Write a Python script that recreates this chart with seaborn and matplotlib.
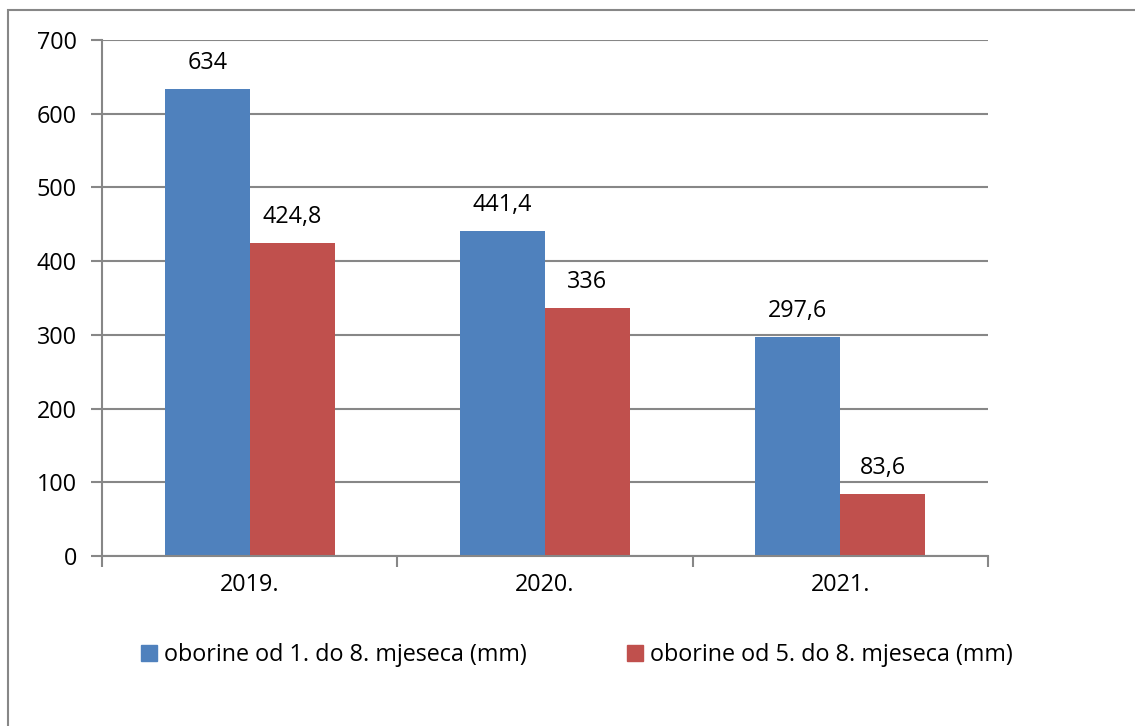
import matplotlib
matplotlib.use("Agg")
import matplotlib.pyplot as plt
import seaborn as sns
import pandas as pd
from matplotlib.patches import Rectangle
from matplotlib.lines import Line2D

years = ["2019.", "2020.", "2021."]
series_names = ["oborine od 1. do 8. mjeseca (mm)", "oborine od 5. do 8. mjeseca (mm)"]
vals_1_8 = [634, 441.4, 297.6]
vals_5_8 = [424.8, 336, 83.6]
colors = ["#4F81BD", "#C0504D"]
yticks = [0, 100, 200, 300, 400, 500, 600, 700]

df = pd.DataFrame({
    "year": years * 2,
    "value": vals_1_8 + vals_5_8,
    "series": [series_names[0]] * 3 + [series_names[1]] * 3,
})

sns.set_style("white")
plt.rcParams["font.family"] = ["Open Sans", "DejaVu Sans"]
plt.rcParams["text.color"] = "black"
plt.rcParams["xtick.labelcolor"] = "black"
plt.rcParams["ytick.labelcolor"] = "black"
FS = 16.8
GRID = "#878787"

fig = plt.figure(figsize=(11.35, 7.26), dpi=100)
ax = fig.add_axes([102 / 1135, 1 - 556 / 726, (988 - 102) / 1135, (556 - 40) / 726])

sns.barplot(data=df, x="year", y="value", hue="series", palette=colors,
            saturation=1, width=0.575, ax=ax, legend=False, linewidth=0)

ax.set_xlim(-0.5, 2.5)
ax.set_ylim(0, 700)
ax.set_yticks(yticks)
ax.set_yticklabels([str(t) for t in yticks], fontsize=FS, color="black")
ax.yaxis.grid(True, color=GRID, linewidth=1.5)
ax.set_axisbelow(True)
ax.set_xlabel("")
ax.set_ylabel("")

for s in ["top", "right"]:
    ax.spines[s].set_visible(False)
for s in ["left", "bottom"]:
    ax.spines[s].set_color(GRID)
    ax.spines[s].set_linewidth(1.5)

ax.tick_params(axis="y", which="major", length=8, width=1.5, color=GRID, pad=10, left=True)
ax.tick_params(axis="x", which="major", length=0, pad=12, labelsize=FS, labelcolor="black")
ax.set_xticks([-0.5, 0.5, 1.5, 2.5], minor=True)
ax.tick_params(axis="x", which="minor", length=8, width=1.5, color=GRID, bottom=True)

for cont in ax.containers:
    labels = [("%g" % v).replace(".", ",") for v in cont.datavalues]
    ax.bar_label(cont, labels=labels, padding=10, fontsize=FS, color="black")

handles = [Line2D([0], [0], marker="s", linestyle="", markersize=11,
                  markerfacecolor=c, markeredgecolor=c) for c in colors]
fig.legend(handles, series_names, loc="center", bbox_to_anchor=(577 / 1135, 1 - 655 / 726),
           ncol=2, frameon=False, fontsize=FS, handletextpad=0.3, columnspacing=4.3,
           handlelength=0.7, labelcolor="black")

fig.patches.append(Rectangle((8 / 1135, -0.05), 1.1, 1 - 10 / 726 + 0.05,
                             transform=fig.transFigure, fill=False,
                             edgecolor=GRID, linewidth=1.5))

fig.savefig("out.png", dpi=100)
